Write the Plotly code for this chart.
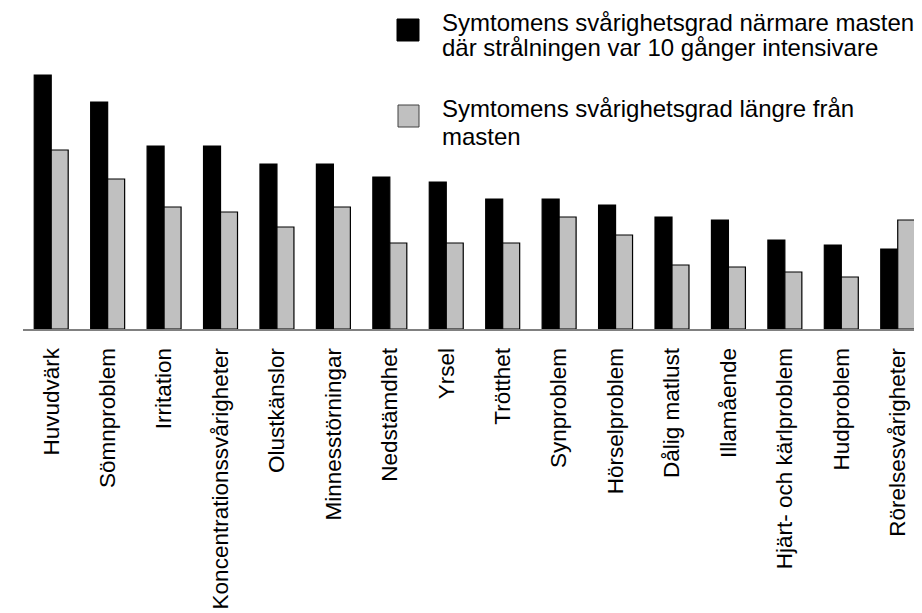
import plotly.graph_objects as go

categories = ["Huvudvärk", "Sömnproblem", "Irritation", "Koncentrationssvårigheter",
              "Olustkänslor", "Minnesstörningar", "Nedstämdhet", "Yrsel", "Trötthet",
              "Synproblem", "Hörselproblem", "Dålig matlust", "Illamående",
              "Hjärt- och kärlproblem", "Hudproblem", "Rörelsesvårigheter"]
near_mast = [254, 227, 183, 183, 165, 165, 152, 147, 130, 130, 124, 112, 109, 89, 84, 80]
far_from_mast = [179, 150, 122, 117, 102, 122, 86, 86, 86, 112, 94, 64, 62, 57, 52, 109]
legend_near = ["Symtomens svårighetsgrad närmare masten",
               "där strålningen var 10 gånger intensivare"]
legend_far = ["Symtomens svårighetsgrad längre från", "masten"]

# the page body has an 8px default margin; work in page pixels and offset
OX, OY = 8, 8
W, H = 922 - OX, 613 - OY
PLOT_LEFT, PLOT_BOTTOM = 23, 329   # page pixels
ML = PLOT_LEFT - OX
MT = 0
PH = PLOT_BOTTOM - OY - MT
MB = H - MT - PH
PW = W - ML
FONT = "Liberation Sans, Arial, sans-serif"
FS = 22.5
LFS = 24

def px(x):
    return (x - OX - ML) / PW

def py(y):
    return 1 - (y - OY - MT) / PH

fig = go.Figure()
fig.add_trace(go.Bar(x=categories, y=near_mast, name=" ".join(legend_near),
                     marker=dict(color="#000000", line=dict(color="#000000", width=1.2)),
                     showlegend=False))
fig.add_trace(go.Bar(x=categories, y=far_from_mast, name=" ".join(legend_far),
                     marker=dict(color="#c0c0c0", line=dict(color="#000000", width=1.2)),
                     showlegend=False))

shapes = [
    dict(type="rect", xref="paper", yref="paper", x0=px(397), x1=px(419), y0=py(41), y1=py(19),
         fillcolor="#000000", line=dict(color="#000000", width=1)),
    dict(type="rect", xref="paper", yref="paper", x0=px(398), x1=px(419), y0=py(127), y1=py(105),
         fillcolor="#c0c0c0", line=dict(color="#404040", width=1)),
]
annotations = []
for text, ymid in [(legend_near[0], 22), (legend_near[1], 47.5),
                   (legend_far[0], 108), (legend_far[1], 136)]:
    annotations.append(dict(text=text, xref="paper", yref="paper", x=px(440), y=py(ymid),
                            xanchor="left", yanchor="middle", showarrow=False,
                            font=dict(family=FONT, size=LFS, color="#000000")))

fig.update_layout(
    width=W, height=H,
    margin=dict(l=ML, r=0, t=MT, b=MB, pad=0),
    barmode="group", bargap=0.398, bargroupgap=0,
    plot_bgcolor="white", paper_bgcolor="white",
    shapes=shapes, annotations=annotations,
    font=dict(family=FONT, size=FS, color="#000000"),
    xaxis=dict(range=[-0.5, 15.43], showgrid=False, zeroline=False, showline=True,
               linecolor="#808080", linewidth=2, ticks="", tickangle=-90,
               tickfont=dict(family=FONT, size=FS, color="#000000"),
               automargin=False, ticklabelstandoff=8),
    yaxis=dict(range=[0, PH], visible=False, showgrid=False, zeroline=False, fixedrange=True),
)

fig.write_html("out.html")
